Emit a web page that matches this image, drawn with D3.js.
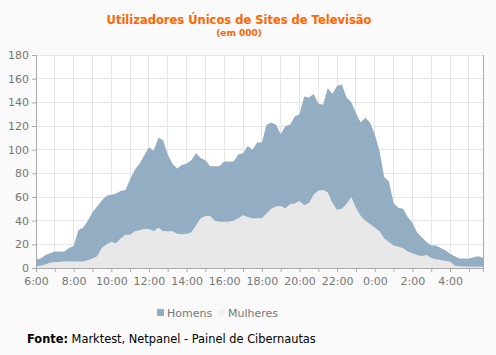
<!DOCTYPE html>
<html><head><meta charset="utf-8">
<script src="https://cdn.jsdelivr.net/npm/d3@7"></script>
<style>body{margin:0;background:#fafafa;}svg{display:block;}</style>
</head><body>
<script>
const title = "Utilizadores Únicos de Sites de Televisão";
const subtitle = "(em 000)";
const seriesNames = ["Homens", "Mulheres"];
const xTickLabels = ["6:00","8:00","10:00","12:00","14:00","16:00","18:00","20:00","22:00","0:00","2:00","4:00"];
const yTicks = [0,20,40,60,80,100,120,140,160,180];
// 15-minute intervals from 6:00 to 5:45 (hours since 6:00 = index/4)
const mulheres = [1.5,2,3,4.5,5,5,5.5,5.5,5.5,5.5,5.5,6.5,8,10,17,20,22,21,25,28,
  28,31,32,33,33,31,34,31,31,31,29,28.5,29,30,36,42,44,44,40,39,
  39,39,40,42,44.5,43,42,42,42,46,50,52,52.4,50.5,53.8,54.5,56.6,53,54.7,62,
  65.5,66,64,55,49,50,54,60,51,44,40,37,34,31,25,22,19,18,16.6,14,
  12.4,11,10,11,8.5,7.5,6.8,6,5.5,2,1.5,1.2,1.1,1.1,1.1,1.1];
const homens = [6,6,8,8,9,9,8.5,11.5,13,26.5,28.5,33.5,39,42,40,41,40,42,40,38,
  47,52,56,62,69,68,76,77,65,57,55,58.5,59,61,61,51,47,42,46,47,
  51,51,50,54,52.5,60,58,64,64,75,73,69,60.6,69.5,67.2,73.5,73.4,92,89.3,85,
  73.5,72,88,92,105,105,90,80,80,79,87,86,79,68,52,51,36,33,33.4,29,
  25.6,19,16,11,10.5,11.5,10.2,9,6.5,8,6.5,6.8,6.9,7.9,8.9,7.4];

const W = 496, H = 355;
const m = {l:36, r:13, t:55, b:87};
const svg = d3.select("body").append("svg").attr("width", W).attr("height", H);
svg.append("rect").attr("width", W).attr("height", H).attr("fill", "#fafafa");

const data = homens.map((h,i)=>({t:i/4, Homens:h, Mulheres:mulheres[i]}));
const x = d3.scaleLinear().domain([0, 23.75]).range([m.l, W - m.r]);
const y = d3.scaleLinear().domain([0, 180]).range([H - m.b, m.t]);

const font = "'DejaVu Sans', Verdana, sans-serif";

svg.append("rect").attr("x", m.l).attr("y", m.t).attr("width", x.range()[1]-m.l)
  .attr("height", y(0)-m.t).attr("fill", "#ffffff");

// grid
const hours = d3.range(0, 24);
svg.append("g").selectAll("line.v").data(hours.slice(1)).join("line")
  .attr("x1", d=>x(d)).attr("x2", d=>x(d)).attr("y1", m.t).attr("y2", y(0))
  .attr("stroke", "#e6e6e6").attr("stroke-width", 1).attr("shape-rendering","crispEdges");
svg.append("g").selectAll("line.h").data(yTicks.slice(1)).join("line")
  .attr("x1", m.l).attr("x2", x.range()[1]).attr("y1", d=>y(d)).attr("y2", d=>y(d))
  .attr("stroke", "#e6e6e6").attr("stroke-width", 1).attr("shape-rendering","crispEdges");

// stacked areas
const stack = d3.stack().keys(["Mulheres", "Homens"]);
const layers = stack(data);
const colors = {Homens:"#93adc2", Mulheres:"#e8e8e8"};
const area = d3.area().x(d=>x(d.data.t)).y0(d=>y(d[0])).y1(d=>y(d[1])).curve(d3.curveLinear);
svg.append("g").selectAll("path").data(layers).join("path")
  .attr("d", area).attr("fill", d=>colors[d.key]);

// axes
const yAxis = d3.axisLeft(y).tickValues(yTicks).tickSize(4).tickPadding(3);
const gy = svg.append("g").attr("transform", `translate(${m.l},0)`).call(yAxis);
const xAxis = d3.axisBottom(x).tickValues(hours).tickSize(4).tickPadding(5)
  .tickFormat(d => d % 2 === 0 ? xTickLabels[d/2] : "");
const gx = svg.append("g").attr("transform", `translate(0,${y(0)})`).call(xAxis);
[gx, gy].forEach(g=>{
  g.select(".domain").attr("stroke", "#aaaaaa");
  g.selectAll(".tick line").attr("stroke", "#aaaaaa");
  g.selectAll("text").attr("fill", "#777777").style("font-family", font).style("font-size", "11px");
});
// right border
svg.append("line").attr("x1", x.range()[1]+0.5).attr("x2", x.range()[1]+0.5)
  .attr("y1", m.t).attr("y2", y(0)).attr("stroke", "#aaaaaa");

// title
svg.append("text").attr("x", 239).attr("y", 24).attr("text-anchor","middle")
  .attr("fill", "#ff6600").style("font-family", font).style("font-weight","bold").style("font-size","11.5px")
  .text(title);
svg.append("text").attr("x", 239).attr("y", 36).attr("text-anchor","middle")
  .attr("fill", "#ff6600").style("font-family", font).style("font-weight","bold").style("font-size","9px")
  .text(subtitle);

// legend
const legendFill = {Homens:"#93adc2", Mulheres:"#f3f3f3"};
const lg = svg.append("g").attr("transform", "translate(157,317)");
const items = [{k:"Homens", x:0},{k:"Mulheres", x:61}];
items.forEach(it=>{
  lg.append("rect").attr("x", it.x).attr("y", -8).attr("width", 7).attr("height", 7).attr("fill", legendFill[it.k]);
  lg.append("text").attr("x", it.x+10).attr("y", 0).attr("fill", "#777777")
    .style("font-family", font).style("font-size","11px").text(it.k);
});

// source
const src = svg.append("text").attr("x", 27).attr("y", 343).attr("fill", "#000")
  .style("font-family", font).style("font-size","11.4px");
src.append("tspan").style("font-weight","bold").text("Fonte:");
src.append("tspan").text(" Marktest, Netpanel - Painel de Cibernautas");
</script>
</body></html>
